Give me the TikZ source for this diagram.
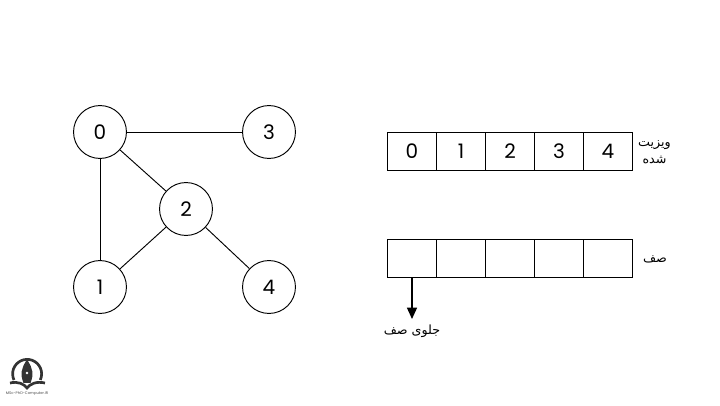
\documentclass[tikz,border=0pt]{standalone}
\usepackage{fontspec}
\setmainfont{Poppins}
\newfontfamily\arabicfont[Script=Arabic]{DejaVu Sans}
\TeXXeTstate=1
\usetikzlibrary{arrows.meta}
\tikzset{
	vertex/.style={circle,draw,line width=0.7pt,minimum size=39.7pt,inner sep=0pt,font=\fontsize{15}{17}\selectfont},
	cell/.style={rectangle,draw,line width=0.7pt,minimum width=36.75pt,minimum height=28.9pt,inner sep=0pt,font=\fontsize{15}{17}\selectfont},
	caption/.style={align=center,inner sep=0pt,font=\arabicfont\fontsize{9.5}{12.9}\selectfont},
	logo/.style={draw=black!80,line width=2pt}
}
\begin{document}
\begin{tikzpicture}[x=0.75pt,y=-0.75pt,line width=0.7pt]
	\useasboundingbox (0,0) rectangle (720,406);
	
	\node[vertex] (n0) at (100,132) {0};
	\node[vertex] (n3) at (269,132) {3};
	\node[vertex] (n2) at (186,209) {2};
	\node[vertex] (n1) at (100,287) {1};
	\node[vertex] (n4) at (269,287) {4};
	
	\draw (n0) -- (n3);
	\draw (n0) -- (n1);
	\draw (n0) -- (n2);
	\draw (n2) -- (n1);
	\draw (n2) -- (n4);
	
	\node[cell] (v0) at (412,151.5) {0};
	\node[cell] (v1) at (461,151.5) {1};
	\node[cell] (v2) at (510,151.5) {2};
	\node[cell] (v3) at (559,151.5) {3};
	\node[cell] (v4) at (608,151.5) {4};
	
	\node[cell] (q0) at (412,258.5) {};
	\node[cell] (q1) at (461,258.5) {};
	\node[cell] (q2) at (510,258.5) {};
	\node[cell] (q3) at (559,258.5) {};
	\node[cell] (q4) at (608,258.5) {};
	
	\node[caption] (visited) at (654.5,152) {\beginR ویزیت\endR\\\beginR شده\endR};
	\node[caption] (queue) at (655,259) {\beginR صف\endR};
	\node[caption] (front) at (412,331) {\beginR جلوی صف\endR};
	
	\coordinate (fronttip) at (412,319);
	\draw[line width=1pt,-{Triangle[length=8.5pt,width=7.5pt]}] (q0.south) -- (fronttip);
	
	% logo
	\draw[logo] (14,380) arc[start angle=155,end angle=385,radius=14.5];
	\draw[logo,line width=1.2pt,fill=black!80] (27,361) .. controls (22,369) and (21,374) .. (24,382) -- (30,382) .. controls (33,374) and (32,369) .. (27,361) -- cycle;
	\fill[white] (27,373) circle (1.4);
	\draw[logo,line width=2pt] (10,383) .. controls (18,381) and (24,384) .. (27,388) .. controls (30,384) and (36,381) .. (45,383);
	\node[inner sep=0pt,text=black!70,font=\fontsize{2.8}{3.5}\selectfont] (logotext) at (27,394) {MSc-PhD-Computer.IR};
\end{tikzpicture}
\end{document}
